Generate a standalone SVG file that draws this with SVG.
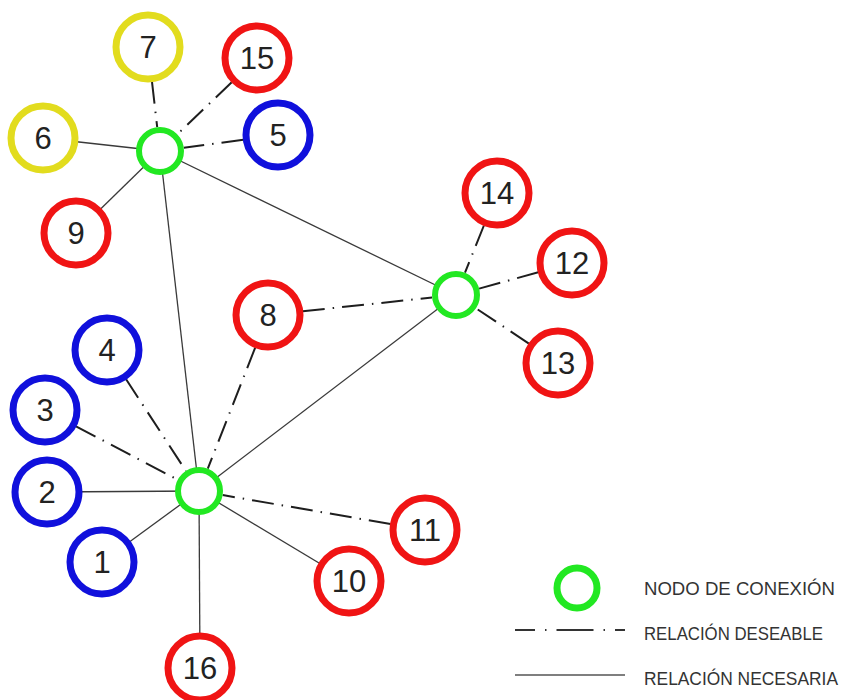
<svg xmlns="http://www.w3.org/2000/svg" width="845" height="700" viewBox="0 0 845 700">
<style>
.bg{fill:#ffffff}
.node{fill:#ffffff;stroke-width:7}
.red{stroke:#f01414}
.blue{stroke:#1010dc}
.yellow{stroke:#e2dc1e}
.hub{fill:#ffffff;stroke:#22e822;stroke-width:6}
.num{font-family:"Liberation Sans",Arial,sans-serif;font-size:31px;fill:#222222;text-anchor:middle}
.solid{stroke:#3a3a3a;stroke-width:1.3;fill:none}
.dash{stroke:#1e1e1e;stroke-width:2;fill:none;stroke-dasharray:22 8 1.5 8}
.legdash{stroke:#333333;stroke-width:2;fill:none;stroke-dasharray:37 10 1.5 10;stroke-dashoffset:17}
.leg{font-family:"Liberation Sans",Arial,sans-serif;font-size:18px;fill:#333333}
</style>
<rect class="bg" x="0" y="0" width="845" height="700"/>
<g id="connectors">
<line class="solid" x1="160" y1="151" x2="43" y2="138"/>
<line class="solid" x1="160" y1="151" x2="76" y2="233"/>
<line class="solid" x1="160" y1="151" x2="199" y2="491"/>
<line class="solid" x1="160" y1="151" x2="456" y2="295"/>
<line class="solid" x1="456" y1="295" x2="199" y2="491"/>
<line class="solid" x1="199" y1="491" x2="47" y2="492"/>
<line class="solid" x1="199" y1="491" x2="102" y2="562"/>
<line class="solid" x1="199" y1="491" x2="349" y2="581"/>
<line class="solid" x1="199" y1="491" x2="200" y2="668"/>
<line class="dash" x1="152" y1="81.8" x2="157.2" y2="127.2"/>
<line class="dash" x1="231.7" y1="82.2" x2="177.3" y2="134.4"/>
<line class="dash" x1="243.3" y1="139.7" x2="183.8" y2="147.8"/>
<line class="dash" x1="483.9" y1="225.5" x2="465" y2="272.7"/>
<line class="dash" x1="538.3" y1="272.3" x2="479.1" y2="288.6"/>
<line class="dash" x1="528.9" y1="343.6" x2="476" y2="308.3"/>
<line class="dash" x1="302.8" y1="311.3" x2="432.1" y2="297.5"/>
<line class="dash" x1="126.1" y1="379.3" x2="185.9" y2="470.9"/>
<line class="dash" x1="76" y1="426.3" x2="177.8" y2="479.8"/>
<line class="dash" x1="255.2" y1="347.6" x2="207.8" y2="468.7"/>
<line class="dash" x1="390.5" y1="524" x2="222.7" y2="495.1"/>
</g>
<g id="hubA"><circle class="hub" cx="160" cy="151" r="21"/></g>
<g id="hubB"><circle class="hub" cx="199" cy="491" r="21"/></g>
<g id="hubC"><circle class="hub" cx="456" cy="295" r="21"/></g>
<g id="n1"><circle class="node blue" cx="102" cy="562" r="32"/><text class="num" x="102" y="573">1</text></g>
<g id="n2"><circle class="node blue" cx="47" cy="492" r="32"/><text class="num" x="47" y="503">2</text></g>
<g id="n3"><circle class="node blue" cx="45" cy="410" r="32"/><text class="num" x="45" y="421">3</text></g>
<g id="n4"><circle class="node blue" cx="107" cy="350" r="32"/><text class="num" x="107" y="361">4</text></g>
<g id="n5"><circle class="node blue" cx="278" cy="135" r="32"/><text class="num" x="278" y="146">5</text></g>
<g id="n6"><circle class="node yellow" cx="43" cy="138" r="32"/><text class="num" x="43" y="149">6</text></g>
<g id="n7"><circle class="node yellow" cx="148" cy="47" r="32"/><text class="num" x="148" y="58">7</text></g>
<g id="n8"><circle class="node red" cx="268" cy="315" r="32"/><text class="num" x="268" y="326">8</text></g>
<g id="n9"><circle class="node red" cx="76" cy="233" r="32"/><text class="num" x="76" y="244">9</text></g>
<g id="n10"><circle class="node red" cx="349" cy="581" r="32"/><text class="num" x="349" y="592">10</text></g>
<g id="n11"><circle class="node red" cx="425" cy="530" r="32"/><text class="num" x="425" y="541">11</text></g>
<g id="n12"><circle class="node red" cx="572" cy="263" r="32"/><text class="num" x="572" y="274">12</text></g>
<g id="n13"><circle class="node red" cx="558" cy="363" r="32"/><text class="num" x="558" y="374">13</text></g>
<g id="n14"><circle class="node red" cx="497" cy="193" r="32"/><text class="num" x="497" y="204">14</text></g>
<g id="n15"><circle class="node red" cx="257" cy="58" r="32"/><text class="num" x="257" y="69">15</text></g>
<g id="n16"><circle class="node red" cx="200" cy="668" r="32"/><text class="num" x="200" y="679">16</text></g>
<g id="legend">
<circle class="hub" cx="577" cy="588" r="20" style="stroke-width:7"/>
<line class="legdash" x1="515" y1="630" x2="625" y2="630"/>
<line class="solid" x1="515" y1="675" x2="625" y2="675" style="stroke:#555555;stroke-width:1.5"/>
<text class="leg" x="644" y="595" textLength="191" lengthAdjust="spacingAndGlyphs">NODO DE CONEXIÓN</text>
<text class="leg" x="644" y="640" textLength="179" lengthAdjust="spacingAndGlyphs">RELACIÓN DESEABLE</text>
<text class="leg" x="644" y="685" textLength="194" lengthAdjust="spacingAndGlyphs">RELACIÓN NECESARIA</text>
</g>
</svg>
